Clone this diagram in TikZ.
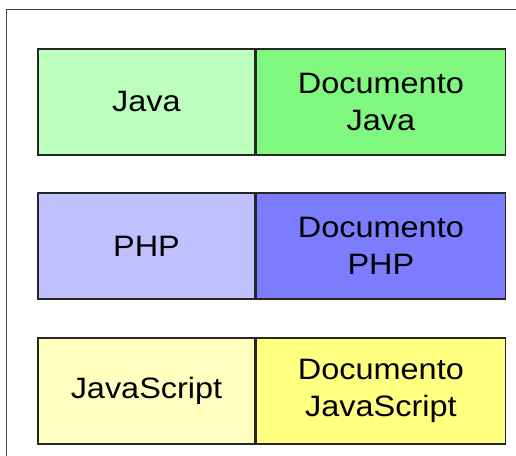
\documentclass[tikz,border=0pt]{standalone}
\usepackage{fontspec}
\setmainfont{Liberation Sans}[FakeStretch=1.1]
\definecolor{javalight}{HTML}{BCFFBC}
\definecolor{javadark}{HTML}{80F880}
\definecolor{phplight}{HTML}{C0C0FF}
\definecolor{phpdark}{HTML}{7C7CFF}
\definecolor{jslight}{HTML}{FFFFC0}
\definecolor{jsdark}{HTML}{FFFF80}
\begin{document}
\begin{tikzpicture}[x=1pt, y=1pt,
    lang/.style={draw=black!85, line width=1.4pt, minimum width=217pt, minimum height=106pt,
        inner sep=0pt, font=\fontsize{29.5}{37}\selectfont},
    doc/.style={lang, minimum width=249pt, align=center}]
        \useasboundingbox (0,0) rectangle (516,455);
        \clip (0,0) rectangle (516,455);

        % Outer frame
        \draw[line width=1.4pt, black!75] (6.5,-20) -- (6.5,445.5) -- (540,445.5);

        % Languages
        \node[lang, fill=javalight] (java) at (146.5,353) {Java};
        \node[lang, fill=phplight] (php) at (146.5,209) {PHP};
        \node[lang, fill=jslight] (js) at (146.5,64) {JavaScript};

        % Documents
        \node[doc, fill=javadark, anchor=west] (javadoc) at (java.east) {Documento\\Java};
        \node[doc, fill=phpdark, anchor=west] (phpdoc) at (php.east) {Documento\\PHP};
        \node[doc, fill=jsdark, anchor=west] (jsdoc) at (js.east) {Documento\\JavaScript};
    \end{tikzpicture}
\end{document}
